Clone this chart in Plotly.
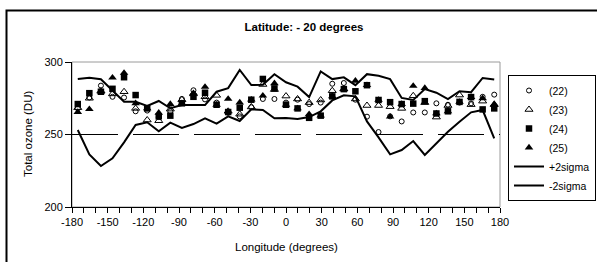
import plotly.graph_objects as go

# ---------------- data ----------------
longitude = list(range(-180, 181, 10))  # 37 categories

ser22 = [268, 275.5, 283.7, 276, 275.5, 266, 266.5, 262, 266, 274.5, 280.5, 274.2, 272, 265, 262.5,
         268.8, 274.5, 274.5, 272, 274, 271, 272, 285, 285.5, 274, 262.3, 251.7, 262.5, 259, 265.2,
         265.2, 271.5, 270.5, 272, 271.5, 276, 277.5]
ser23 = [268.5, 275, 280, 278, 279.5, 268, 260, 259.5, 267.5, 274, 278, 276, 277, 266, 264,
         269, 284.5, 281, 276.5, 274.5, 272, 273.8, 280.2, 281.3, 274.5, 270, 270, 269.2, 268, 276.7,
         272, 262, 270, 277.2, 270.6, 273, 270.5]
ser24 = [271, 278.5, 279.5, 281.5, 289.5, 277.2, 268, 262.5, 263, 271.5, 276, 278.8, 270.5, 265.5, 268.5,
         274, 288.3, 281.8, 270.5, 268, 261.5, 263, 276.3, 281.3, 279.8, 284, 273.8, 272.3, 271, 271.3,
         273, 264.5, 266, 272.5, 275.8, 267.3, 268]
ser25 = [265.5, 267.5, 279.5, 289.2, 292.5, 271.5, 268, 265, 271, 271.5, 278.5, 282.8, 270.5, 274.5, 272,
         274, 276.8, 285.3, 270.5, 268, 264, 263, 276.3, 281.3, 287, 284, 273.8, 262.3, 271, 283.5,
         282, 264.5, 266, 272.5, 275.8, 275, 271]
plus2sigma = [288.3, 289.2, 288.1, 280.0, 272.6, 272.6, 269.7, 273.1, 268.1, 270.3, 270.3, 270.3, 279.5,
              282.0, 294.5, 284.1, 284.3, 291.6, 286.0, 283.0, 275.8, 293.5, 288.2, 289.4, 284.0, 291.6,
              290.5, 288.2, 275.2, 273.8, 281.3, 278.8, 274.4, 279.8, 279.2, 289.0, 287.9]
minus2sigma = [253.1, 236.3, 228.3, 233.6, 244.6, 256.6, 258.4, 252.2, 258.2, 254.5, 257.2, 261.2, 257.5,
               262.5, 259.3, 267.4, 266.9, 261.2, 261.3, 260.7, 262.0, 266.0, 273.5, 277.0, 276.3, 259.0,
               248.0, 236.3, 239.3, 245.5, 235.9, 244.0, 251.9, 258.8, 265.3, 266.9, 247.4]

x_tick_values = list(range(-180, 181, 30))
x_tick_labels = [str(v) for v in x_tick_values]
y_tick_values = [200, 250, 300]
reference_level = 250

# ---------------- layout geometry (pixels) ----------------
W, H = 597, 262
L, R, T, B = 72, 500, 62, 207


def px_x(p):
    return (p - L) / (R - L)


def px_y(p):
    return (B - p) / (B - T)


FONT = "Liberation Sans, Arial, sans-serif"

fig = go.Figure()

fig.add_trace(go.Scatter(x=longitude, y=ser22, mode="markers", name="(22)",
                         marker=dict(symbol="circle-open", size=5, color="black", line=dict(width=1))))
fig.add_trace(go.Scatter(x=longitude, y=ser23, mode="markers", name="(23)",
                         marker=dict(symbol="triangle-up-open", size=7, color="black", line=dict(width=1))))
fig.add_trace(go.Scatter(x=longitude, y=ser24, mode="markers", name="(24)",
                         marker=dict(symbol="square", size=6.5, color="black", line=dict(width=0))))
fig.add_trace(go.Scatter(x=longitude, y=ser25, mode="markers", name="(25)",
                         marker=dict(symbol="triangle-up", size=7.5, color="black", line=dict(width=0))))
fig.add_trace(go.Scatter(x=longitude, y=plus2sigma, mode="lines", name="+2sigma",
                         line=dict(color="black", width=2)))
fig.add_trace(go.Scatter(x=longitude, y=minus2sigma, mode="lines", name="-2sigma",
                         line=dict(color="black", width=2)))

fig.update_layout(
    width=W, height=H,
    margin=dict(l=L, r=W - R, t=T, b=H - B, autoexpand=False),
    paper_bgcolor="white", plot_bgcolor="white",
    font=dict(family=FONT, size=11, color="black"),
    title=dict(text="<b>Latitude: - 20 degrees</b>", x=304 / W, xanchor="center",
               y=1 - 27 / H, yanchor="middle", font=dict(size=11.5, family=FONT)),
    xaxis=dict(range=[-185, 185], visible=False, showgrid=False, zeroline=False),
    xaxis2=dict(overlaying="x", anchor="y", side="bottom", range=[-180, 180],
                tickmode="array", tickvals=x_tick_values, ticktext=x_tick_labels,
                ticks="outside", ticklen=5, tickcolor="black", tickwidth=1,
                minor=dict(dtick=10, tick0=-180, ticks="outside", ticklen=5, tickcolor="black",
                           tickwidth=1, showgrid=False),
                showline=True, linecolor="black", linewidth=1, showgrid=False, zeroline=False,
                tickfont=dict(size=11)),
    yaxis=dict(range=[200, 300], tickmode="array", tickvals=y_tick_values,
               ticks="outside", ticklen=6, tickcolor="black", tickwidth=1,
               showline=True, linecolor="black", linewidth=1, showgrid=False, zeroline=False,
               tickfont=dict(size=11)),
    legend=dict(x=px_x(508), y=px_y(75), xanchor="left", yanchor="top",
                bordercolor="black", borderwidth=1, bgcolor="white",
                font=dict(size=10.5, family=FONT), itemwidth=30, tracegroupgap=0),
    showlegend=True,
)

# invisible trace that activates the tick axis
fig.add_trace(go.Scatter(x=[x_tick_values[0], x_tick_values[-1]], y=[None, None], xaxis="x2", yaxis="y",
                         mode="lines", showlegend=False, hoverinfo="skip"))

shapes = [
    # plot area border (gray)
    dict(type="rect", xref="paper", yref="paper", x0=0, x1=1, y0=0, y1=1,
         line=dict(color="#9a9a9a", width=1), layer="below"),
    # dashed reference line
    dict(type="line", xref="paper", yref="y", x0=0, x1=1, y0=reference_level, y1=reference_level,
         line=dict(color="black", width=1, dash="46px,15px"), layer="below"),
    # outer chart frame
    dict(type="rect", xref="paper", yref="paper", x0=px_x(6.5), x1=px_x(640), y0=px_y(300), y1=px_y(10.5),
         line=dict(color="black", width=2), layer="above"),
]
fig.update_layout(shapes=shapes)

fig.add_annotation(text="Longitude (degrees)", xref="paper", yref="paper", x=px_x(286), y=px_y(247),
                   showarrow=False, xanchor="center", yanchor="middle", font=dict(size=11.5, family=FONT))
fig.add_annotation(text="Total ozone (DU)", xref="paper", yref="paper", x=px_x(28), y=px_y(134),
                   showarrow=False, xanchor="center", yanchor="middle", textangle=-90,
                   font=dict(size=11.5, family=FONT))

fig.write_html("out.html", config={"displayModeBar": False},
               post_script="document.body.style.margin='0px';")
